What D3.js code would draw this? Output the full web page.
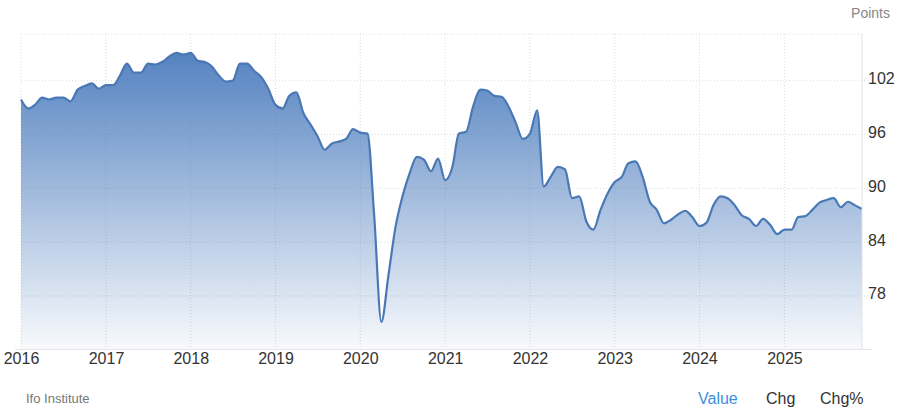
<!DOCTYPE html>
<html>
<head>
<meta charset="utf-8">
<script src="https://cdn.jsdelivr.net/npm/d3@7"></script>
<style>
  body { margin: 0; background: #fff; }
  text { font-family: "Liberation Sans", Arial, sans-serif; }
</style>
</head>
<body>
<div id="my_dataviz"></div>
<script>
// monthly values (points)
const ifo2016 = [99.9, 98.9, 99.3, 100.1, 99.9, 100.1, 100.1, 99.7, 101.0, 101.4, 101.7, 101.1];
const ifo2017 = [101.5, 101.5, 102.5, 103.9, 102.9, 102.9, 103.9, 103.8, 104.1, 104.7, 105.1, 104.9];
const ifo2018 = [105.1, 104.2, 104.1, 103.6, 102.6, 101.9, 102.0, 103.9, 103.9, 103.1, 102.4, 101.1];
const ifo2019 = [99.3, 98.9, 100.3, 100.7, 98.4, 97.1, 95.8, 94.3, 95.0, 95.2, 95.5, 96.6];
const ifo2020 = [96.2, 96.1, 87.0, 75.1, 80.2, 85.7, 89.1, 91.7, 93.5, 93.2, 91.9, 93.3];
const ifo2021 = [90.9, 92.4, 96.1, 96.3, 99.1, 101.0, 100.9, 100.3, 100.2, 99.1, 97.3, 95.5];
const ifo2022 = [96.1, 98.7, 90.2, 91.3, 92.4, 92.1, 88.9, 89.1, 86.3, 85.4, 87.6, 89.4];
const ifo2023 = [90.7, 91.3, 92.8, 93.0, 91.3, 88.5, 87.6, 86.1, 86.5, 87.1, 87.5, 86.8];
const ifo2024 = [85.8, 86.2, 88.1, 89.1, 88.9, 88.1, 87.0, 86.6, 85.8, 86.6, 85.9, 84.9];
const ifo2025 = [85.4, 85.4, 86.8, 86.9, 87.6, 88.4, 88.7, 88.9, 87.9, 88.5, 88.1, 87.7];

const years = [2016, 2017, 2018, 2019, 2020, 2021, 2022, 2023, 2024, 2025];
const yTicks = [78, 84, 90, 96, 102];
const unitLabel = "Points";
const sourceLabel = "Ifo Institute";
const buttons = ["Value", "Chg", "Chg%"];

const byYear = [ifo2016, ifo2017, ifo2018, ifo2019, ifo2020, ifo2021, ifo2022, ifo2023, ifo2024, ifo2025];
const data = [];
byYear.forEach(function (arr, k) {
  arr.forEach(function (v, m) {
    data.push({ date: new Date(years[k], m, 1), value: v });
  });
});

const margin = { top: 34, right: 38, bottom: 67, left: 21 },
  width = 900 - margin.left - margin.right,
  height = 416 - margin.top - margin.bottom;

const svgRoot = d3
  .select("#my_dataviz")
  .append("svg")
  .attr("width", 900)
  .attr("height", 416);

svgRoot.append("rect").attr("width", 900).attr("height", 416).attr("fill", "#fff");

const svg = svgRoot
  .append("g")
  .attr("transform", `translate(${margin.left}, ${margin.top})`);

// scales
const x = d3
  .scaleTime()
  .domain([data[0].date, data[data.length - 1].date])
  .range([0, width]);

const y = d3.scaleLinear().domain([72.09, 107.2]).range([height, 0]);

// gradient for the area
const grad = svgRoot
  .append("defs")
  .append("linearGradient")
  .attr("id", "areaFill")
  .attr("gradientUnits", "userSpaceOnUse")
  .attr("x1", 0)
  .attr("x2", 0)
  .attr("y1", 0)
  .attr("y2", height);
grad.append("stop").attr("offset", "0%").attr("stop-color", "#4a7bbd").attr("stop-opacity", 1);
grad.append("stop").attr("offset", "100%").attr("stop-color", "#4a7bbd").attr("stop-opacity", 0.04);

// grid lines
svg
  .append("g")
  .selectAll("line.hgrid")
  .data(yTicks)
  .join("line")
  .attr("x1", 0)
  .attr("x2", width + 6)
  .attr("y1", function (d) { return y(d); })
  .attr("y2", function (d) { return y(d); })
  .attr("stroke", "#dcdcdc")
  .attr("stroke-dasharray", "1,2");

svg
  .append("line")
  .attr("x1", 0)
  .attr("x2", width)
  .attr("y1", 0)
  .attr("y2", 0)
  .attr("stroke", "#dcdcdc")
  .attr("stroke-dasharray", "1,2");

svg
  .append("g")
  .selectAll("line.vgrid")
  .data(years)
  .join("line")
  .attr("x1", function (d) { return x(new Date(d, 0, 1)); })
  .attr("x2", function (d) { return x(new Date(d, 0, 1)); })
  .attr("y1", 0)
  .attr("y2", height)
  .attr("stroke", "#dcdcdc")
  .attr("stroke-dasharray", "1,2");

// area + line
const area = d3
  .area()
  .curve(d3.curveMonotoneX)
  .x(function (d) { return x(d.date); })
  .y0(height)
  .y1(function (d) { return y(d.value); });

const line = d3
  .line()
  .curve(d3.curveMonotoneX)
  .x(function (d) { return x(d.date); })
  .y(function (d) { return y(d.value); });

svg.append("path").datum(data).attr("d", area).attr("fill", "url(#areaFill)");

svg
  .append("path")
  .datum(data)
  .attr("d", line)
  .attr("fill", "none")
  .attr("stroke", "#4a78b5")
  .attr("stroke-width", 2.2)
  .attr("stroke-linejoin", "round");

// right border and bottom axis line
svg
  .append("line")
  .attr("x1", width)
  .attr("x2", width)
  .attr("y1", 0)
  .attr("y2", height)
  .attr("stroke", "#e3e3e3");

svg
  .append("line")
  .attr("x1", -6)
  .attr("x2", width + 10)
  .attr("y1", height + 0.5)
  .attr("y2", height + 0.5)
  .attr("stroke", "#e6e6e6");

// x axis labels
svg
  .append("g")
  .attr("transform", `translate(0, ${height})`)
  .call(
    d3
      .axisBottom(x)
      .tickValues(years.map(function (d) { return new Date(d, 0, 1); }))
      .tickFormat(d3.timeFormat("%Y"))
      .tickSize(0)
      .tickPadding(4)
  )
  .call(function (g) { g.select(".domain").remove(); })
  .selectAll("text")
  .attr("font-size", "16px")
  .attr("fill", "#333");

// y axis labels on the right
svg
  .append("g")
  .attr("transform", `translate(${width}, 0)`)
  .call(d3.axisRight(y).tickValues(yTicks).tickSize(0).tickPadding(6))
  .call(function (g) { g.select(".domain").remove(); })
  .selectAll("text")
  .attr("font-size", "16px")
  .attr("fill", "#333")
  .attr("dy", "0.18em");

// unit label
svgRoot
  .append("text")
  .attr("x", 890)
  .attr("y", 18)
  .attr("text-anchor", "end")
  .attr("font-size", "14px")
  .attr("fill", "#888")
  .text(unitLabel);

// source
svgRoot
  .append("text")
  .attr("x", 26)
  .attr("y", 403)
  .attr("font-size", "13px")
  .attr("fill", "#777")
  .text(sourceLabel);

// buttons
const btnX = [698, 766, 820];
svgRoot
  .append("g")
  .selectAll("text")
  .data(buttons)
  .join("text")
  .attr("x", function (d, i) { return btnX[i]; })
  .attr("y", 404)
  .attr("font-size", "16px")
  .attr("fill", function (d, i) { return i === 0 ? "#3d8fd8" : "#333"; })
  .text(function (d) { return d; });
</script>
</body>
</html>
